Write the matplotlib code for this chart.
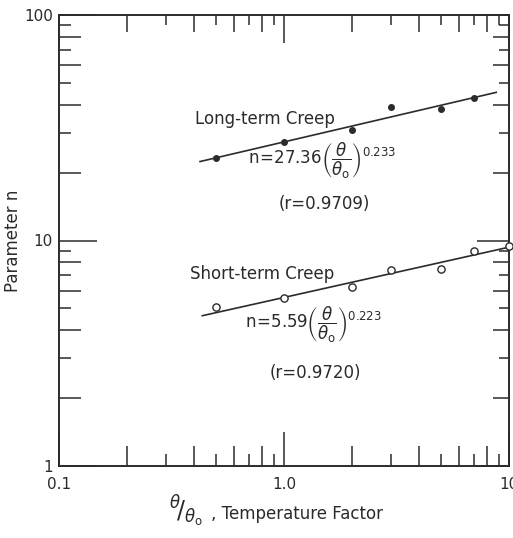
import numpy as np
import matplotlib
matplotlib.use("Agg")
import matplotlib.pyplot as plt
from matplotlib.ticker import FixedLocator, FixedFormatter, NullLocator

# Long-term creep: temperature factor vs parameter n (filled dots)
long_x = [0.5, 1.0, 2.0, 3.0, 5.0, 7.0]
long_n = [23.2, 27.3, 30.9, 39.1, 38.3, 42.8]
long_coef, long_exp = 27.36, 0.233
long_fit_span = [0.42, 8.85]

# Short-term creep (open circles)
short_x = [0.5, 1.0, 2.0, 3.0, 5.0, 7.0, 10.0]
short_n = [5.07, 5.56, 6.22, 7.40, 7.48, 8.98, 9.45]
short_coef, short_exp = 5.59, 0.223
short_fit_span = [0.43, 10.0]

x_tick_labels = {0.1: "0.1", 1.0: "1.0", 10.0: "10"}
y_tick_labels = {1.0: "1", 10.0: "10", 100.0: "100"}

ink = "#2b2b2b"
plt.rcParams["font.family"] = ["DejaVu Sans"]
plt.rcParams["mathtext.fontset"] = "dejavusans"

fig = plt.figure(figsize=(5.13, 5.38), dpi=100, facecolor="white")
ax = fig.add_axes([59 / 513, (538 - 466) / 538, 450 / 513, 451 / 538])
ax.set_xscale("log")
ax.set_yscale("log")
ax.set_xlim(0.1, 10)
ax.set_ylim(1, 100)

# fitted power laws
for coef, ex, span in [(long_coef, long_exp, long_fit_span),
                       (short_coef, short_exp, short_fit_span)]:
    xs = np.geomspace(span[0], span[1], 50)
    ax.plot(xs, coef * xs ** ex, color=ink, lw=1.2, solid_capstyle="butt")

ax.plot(long_x, long_n, "o", ms=4, color=ink, zorder=3)
ax.plot(short_x, short_n, "o", ms=5.2, mfc="white", mec=ink, mew=1.0,
        zorder=3, clip_on=False)

# log-paper style ticks
def log_ticks(lo_exp, hi_exp):
    vals = []
    for k in range(lo_exp, hi_exp):
        for m in range(1, 10):
            vals.append(m * 10.0 ** k)
    vals.append(10.0 ** hi_exp)
    return vals

xt = log_ticks(-1, 1)
yt = log_ticks(0, 2)
ax.xaxis.set_major_locator(FixedLocator(xt))
ax.yaxis.set_major_locator(FixedLocator(yt))
ax.xaxis.set_minor_locator(NullLocator())
ax.yaxis.set_minor_locator(NullLocator())
ax.xaxis.set_major_formatter(FixedFormatter(
    [x_tick_labels.get(round(v, 6), "") for v in xt]))
ax.yaxis.set_major_formatter(FixedFormatter(
    [y_tick_labels.get(round(v, 6), "") for v in yt]))

ax.tick_params(which="both", direction="in", top=True, right=True,
               width=1.1, color=ink, labelcolor=ink, labelsize=11)
ax.tick_params(axis="x", pad=8)
ax.tick_params(axis="y", pad=4.5)

px = 0.72  # pixels -> points at 100 dpi

def mantissa(v):
    return int(round(v / 10 ** np.floor(np.log10(v) + 1e-9)))

def set_lengths(ticks, locs, near, far):
    for t, loc in zip(ticks, locs):
        m = mantissa(loc)
        if m == 1:
            a, b = near[0], far[0]
        elif m % 2 == 0:
            a, b = near[1], far[1]
        else:
            a, b = near[2], far[2]
        t.tick1line.set_markersize(a * px)
        t.tick2line.set_markersize(b * px)

set_lengths(ax.xaxis.get_major_ticks(len(xt)), xt, (34, 20, 12), (28, 17, 10))
set_lengths(ax.yaxis.get_major_ticks(len(yt)), yt, (38, 22, 12), (32, 16, 10))

for s in ax.spines.values():
    s.set_linewidth(1.4)
    s.set_color(ink)

# x-axis title: slanted ratio symbol followed by the words
ax.set_xlabel(", Temperature Factor", fontsize=12, color=ink,
              ha="left", va="baseline")
ax.xaxis.set_label_coords(0.338, -0.1175)
ax.text(0.245, -0.1175, r"$^{\theta}\!/_{\theta_{\mathregular{o}}}$",
        transform=ax.transAxes, fontsize=17, color=ink,
        ha="left", va="baseline")

ax.set_ylabel("Parameter n", fontsize=12, color=ink)
ax.yaxis.set_label_coords(-0.083, 0.5)

tkw = dict(transform=ax.transAxes, color=ink, fontsize=12)
ax.text(0.302, 0.769, "Long-term Creep", ha="left", va="center", **tkw)
ax.text(0.42, 0.670,
        r"$\mathregular{n\!=\!27.36}\left(\dfrac{\theta}{\theta_{\mathregular{o}}}\right)^{\mathregular{0.233}}$",
        ha="left", va="baseline", **tkw)
ax.text(0.487, 0.581, "(r=0.9709)", ha="left", va="center", **tkw)

ax.text(0.291, 0.426, "Short-term Creep", ha="left", va="center", **tkw)
ax.text(0.413, 0.306,
        r"$\mathregular{n\!=\!5.59}\left(\dfrac{\theta}{\theta_{\mathregular{o}}}\right)^{\mathregular{0.223}}$",
        ha="left", va="baseline", **tkw)
ax.text(0.469, 0.206, "(r=0.9720)", ha="left", va="center", **tkw)

fig.savefig("out.png", dpi=100, facecolor="white")
